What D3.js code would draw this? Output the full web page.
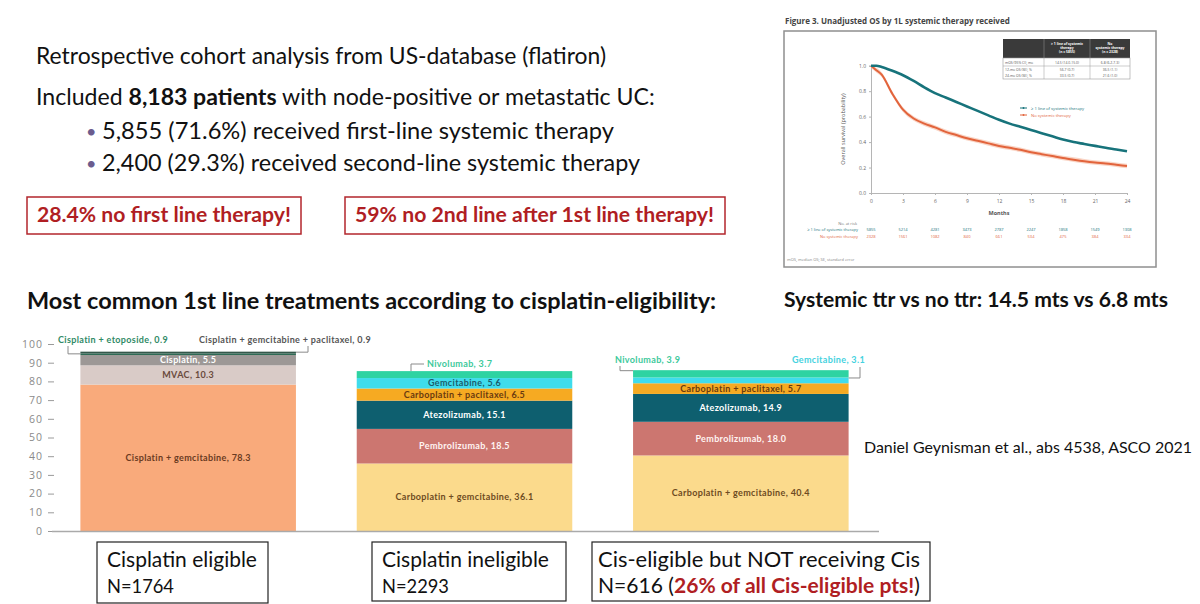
<!DOCTYPE html>
<html><head><meta charset="utf-8">
<script src="https://cdn.jsdelivr.net/npm/d3@7"></script>
<style>
html,body{margin:0;padding:0;background:#fff;}
svg{display:block;}
</style></head><body>
<svg id="c" width="1200" height="604"></svg>
<script>
// ---------------- DATA ----------------
const groups = ["Cisplatin eligible", "Cisplatin ineligible", "Cis-eligible but NOT receiving Cis"];
const groupN = ["N=1764", "N=2293", "N=616"];

const eligibleTreatments = ["Cisplatin + gemcitabine", "MVAC", "Cisplatin", "Cisplatin + etoposide", "Cisplatin + gemcitabine + paclitaxel"];
const eligibleValues = [78.3, 10.3, 5.5, 0.9, 0.9];

const ineligibleTreatments = ["Carboplatin + gemcitabine", "Pembrolizumab", "Atezolizumab", "Carboplatin + paclitaxel", "Gemcitabine", "Nivolumab"];
const ineligibleValues = [36.1, 18.5, 15.1, 6.5, 5.6, 3.7];

const notCisTreatments = ["Carboplatin + gemcitabine", "Pembrolizumab", "Atezolizumab", "Carboplatin + paclitaxel", "Gemcitabine", "Nivolumab"];
const notCisValues = [40.4, 18.0, 14.9, 5.7, 3.1, 3.9];

const yTicks = [0, 10, 20, 30, 40, 50, 60, 70, 80, 90, 100];

// Kaplan-Meier
const kmMonths = [0, 0.5, 1, 2, 3, 4, 5, 6, 7, 8, 9, 10, 11, 12, 13, 14, 15, 16, 17, 18, 19, 20, 21, 22, 23, 24];
const kmSystemic = [1.0, 1.0, 0.99, 0.96, 0.925, 0.88, 0.83, 0.785, 0.75, 0.715, 0.68, 0.645, 0.61, 0.575, 0.545, 0.52, 0.495, 0.47, 0.445, 0.42, 0.40, 0.385, 0.37, 0.355, 0.342, 0.328];
const kmNoSystemic = [1.0, 0.965, 0.93, 0.78, 0.655, 0.585, 0.545, 0.515, 0.48, 0.455, 0.43, 0.41, 0.39, 0.37, 0.355, 0.34, 0.32, 0.305, 0.29, 0.275, 0.262, 0.25, 0.24, 0.232, 0.222, 0.212];
const kmXTicks = [0, 3, 6, 9, 12, 15, 18, 21, 24];
const kmYTicks = [0, 0.2, 0.4, 0.6, 0.8, 1.0];
const atRiskSystemic = [5855, 5214, 4281, 3473, 2787, 2247, 1858, 1549, 1308];
const atRiskNoSystemic = [2328, 1561, 1082, 840, 661, 534, 475, 384, 334];
const kmSeries = ["≥ 1 line of systemic therapy", "No systemic therapy"];
const kmTableHeader = [[], ["≥ 1 line of systemic", "therapy", "(n = 5855)"], ["No", "systemic therapy", "(n = 2328)"]];
const kmTableRows = [["mOS (95% CI), mo", "14.5 (14.0-15.0)", "6.8 (6.2-7.3)"],
                     ["12-mo OS (SE), %", "56.7 (0.7)", "36.5 (1.1)"],
                     ["24-mo OS (SE), %", "33.5 (0.7)", "21.6 (1.0)"]];

// ---------------- STYLES ----------------
const fillColor = {
  "Cisplatin + gemcitabine": "#F9AA7B",
  "MVAC": "#D9CBC7",
  "Cisplatin": "#9D9896",
  "Cisplatin + etoposide": "#2E6B55",
  "Cisplatin + gemcitabine + paclitaxel": "#34574a",
  "Carboplatin + gemcitabine": "#FBDA8C",
  "Pembrolizumab": "#CC7670",
  "Atezolizumab": "#0E5F6F",
  "Carboplatin + paclitaxel": "#F6AA22",
  "Gemcitabine": "#3FDCEC",
  "Nivolumab": "#2ED3A2"
};
const textColor = {
  "Cisplatin + gemcitabine": "#6a3a22",
  "MVAC": "#6a4a3c",
  "Cisplatin": "#ffffff",
  "Carboplatin + gemcitabine": "#6e4b22",
  "Pembrolizumab": "#fff4f2",
  "Atezolizumab": "#ffffff",
  "Carboplatin + paclitaxel": "#6a3a10",
  "Gemcitabine": "#1d5c6c"
};

const svg = d3.select("#c");
const SLIDE_FONT = "Lato, 'Open Sans', sans-serif";

function fit(t, w) {
  const fs = parseFloat(t.attr("font-size"));
  const L = t.node().getComputedTextLength();
  t.attr("font-size", (fs * w / L).toFixed(2));
  return t;
}
function slideText(x, y, str, w, opts = {}) {
  const t = svg.append("text").attr("x", x).attr("y", y)
    .attr("font-family", SLIDE_FONT).attr("font-size", 20)
    .attr("font-weight", opts.weight || 400).attr("fill", opts.fill || "#111")
    .text(str);
  if (w) fit(t, w);
  return t;
}

// ---------------- SLIDE TEXT ----------------
slideText(36, 64, "Retrospective cohort analysis from US-database (flatiron)", 570);
{
  const t = svg.append("text").attr("x", 36).attr("y", 105)
    .attr("font-family", SLIDE_FONT).attr("font-size", 20).attr("fill", "#111");
  t.append("tspan").text("Included ");
  t.append("tspan").attr("font-weight", 700).text("8,183 patients");
  t.append("tspan").text(" with node-positive or metastatic UC:");
  fit(t, 619);
}
svg.append("text").attr("x", 86).attr("y", 138).attr("font-family", SLIDE_FONT)
  .attr("font-size", 18).attr("fill", "#6B5C8E").text("•");
svg.append("text").attr("x", 86).attr("y", 170).attr("font-family", SLIDE_FONT)
  .attr("font-size", 18).attr("fill", "#6B5C8E").text("•");
slideText(102, 139, "5,855 (71.6%) received first-line systemic therapy", 512);
slideText(102, 171, "2,400 (29.3%) received second-line systemic therapy", 538);

// red boxes
svg.append("rect").attr("x", 27).attr("y", 197).attr("width", 274).attr("height", 37)
  .attr("fill", "none").attr("stroke", "#B3262C").attr("stroke-width", 1.5);
svg.append("rect").attr("x", 345).attr("y", 197).attr("width", 380).attr("height", 37)
  .attr("fill", "none").attr("stroke", "#B3262C").attr("stroke-width", 1.5);
slideText(37, 222, "28.4% no first line therapy!", 254, {fill: "#B01E23", weight: 700});
slideText(355, 222, "59% no 2nd line after 1st line therapy!", 359, {fill: "#B01E23", weight: 700});

slideText(27, 309, "Most common 1st line treatments according to cisplatin-eligibility:", 689, {weight: 700});
slideText(784, 307, "Systemic ttr vs no ttr: 14.5 mts vs 6.8 mts", 384, {weight: 700});
slideText(864, 453, "Daniel Geynisman et al., abs 4538, ASCO 2021", 328);

// ---------------- BAR CHART ----------------
const y = d3.scaleLinear().domain([0, 100]).range([531, 344]);
const x = d3.scaleBand().domain(groups).range([50, 879]).paddingInner(0.22).paddingOuter(0.11);

const gAxis = svg.append("g").attr("transform", "translate(54,0)")
  .call(d3.axisLeft(y).tickValues(yTicks).tickSize(6).tickPadding(5));
gAxis.select(".domain").remove();
gAxis.selectAll(".tick line").attr("stroke", "#9a9a9a");
gAxis.selectAll(".tick text").attr("fill", "#8a8a8a").attr("font-family", "'Open Sans', sans-serif")
  .attr("font-size", 10.5).attr("letter-spacing", 1);

const barData = [
  {group: groups[0], names: eligibleTreatments, values: eligibleValues},
  {group: groups[1], names: ineligibleTreatments, values: ineligibleValues},
  {group: groups[2], names: notCisTreatments, values: notCisValues}
];
const segs = [];
barData.forEach(b => {
  let acc = 0;
  b.names.forEach((n, i) => {
    segs.push({group: b.group, name: n, value: b.values[i], y0: acc, y1: acc + b.values[i]});
    acc += b.values[i];
  });
});

svg.append("g").selectAll("rect").data(segs).join("rect")
  .attr("x", d => x(d.group)).attr("width", x.bandwidth())
  .attr("y", d => y(d.y1)).attr("height", d => y(d.y0) - y(d.y1))
  .attr("fill", d => fillColor[d.name]);

// baseline
svg.append("line").attr("x1", 52).attr("x2", 879).attr("y1", y(0) + 0.5).attr("y2", y(0) + 0.5)
  .attr("stroke", "#aaaaaa").attr("stroke-width", 1.5);

const LABEL_FONT = "Lato, 'Open Sans', sans-serif";
// inside labels (segments tall enough)
const inside = segs.filter(d => textColor[d.name] && !(d.group === groups[2] && d.name === "Gemcitabine"));
svg.append("g").selectAll("text").data(inside).join("text")
  .attr("x", d => x(d.group) + x.bandwidth() / 2)
  .attr("y", d => y((d.y0 + d.y1) / 2))
  .attr("dy", "0.35em").attr("text-anchor", "middle")
  .attr("font-family", LABEL_FONT).attr("font-weight", 700).attr("font-size", 9)
  .attr("letter-spacing", 0.35)
  .attr("fill", d => textColor[d.name])
  .text(d => `${d.name}, ${d.value.toFixed(1)}`);

// outside labels with brackets
const outside = [
  {group: groups[0], name: "Cisplatin + etoposide", side: "left", tx: 58, ty: 343, anchor: "start", bx: 68, by: 346, color: "#2F8A66"},
  {group: groups[0], name: "Cisplatin + gemcitabine + paclitaxel", side: "right", tx: 199, ty: 343, anchor: "start", bx: 308, by: 346, color: "#555555"},
  {group: groups[1], name: "Nivolumab", side: "leftTop", tx: 427, ty: 367, anchor: "start", bx: 411, by: 364, color: "#3CC99B"},
  {group: groups[2], name: "Nivolumab", side: "left", tx: 615, ty: 363, anchor: "start", bx: 620, by: 366, color: "#3CC99B"},
  {group: groups[2], name: "Gemcitabine", side: "right", tx: 865, ty: 363, anchor: "end", bx: 860, by: 367, color: "#45D2E0"}
];
outside.forEach(o => {
  const s = segs.find(d => d.group === o.group && d.name === o.name);
  const barTop = y(s.y1);
  let path;
  if (o.side === "left") path = `M${o.bx},${o.by}V${barTop + 0.5}H${x(o.group)}`;
  else if (o.side === "right") path = `M${x(o.group) + x.bandwidth()},${barTop + 0.5}H${o.bx}V${o.by}`;
  else path = `M${o.tx - 3},${o.by}H${o.bx}V${barTop}`;
  svg.append("path").attr("d", path).attr("fill", "none").attr("stroke", "#8a8a8a").attr("stroke-width", 1);
  svg.append("text").attr("x", o.tx).attr("y", o.ty).attr("text-anchor", o.anchor)
    .attr("font-family", LABEL_FONT).attr("font-weight", 700).attr("font-size", 9)
    .attr("letter-spacing", 0.35).attr("fill", o.color)
    .text(`${o.name}, ${s.value.toFixed(1)}`);
});

// group boxes
const boxes = [
  {x0: 97, x1: 268, y0: 542, y1: 603},
  {x0: 372, x1: 566, y0: 542, y1: 601},
  {x0: 592, x1: 930, y0: 542, y1: 601}
];
boxes.forEach((b, i) => {
  svg.append("rect").attr("x", b.x0).attr("y", b.y0).attr("width", b.x1 - b.x0).attr("height", b.y1 - b.y0)
    .attr("fill", "#fff").attr("stroke", "#222").attr("stroke-width", 1.2);
});
slideText(107, 567, groups[0], 150);
slideText(107, 593, groupN[0], 67);
slideText(382, 567, groups[1], 167);
slideText(382, 593, groupN[1], 67);
slideText(598, 567, groups[2], 322);
{
  const t = svg.append("text").attr("x", 598).attr("y", 593)
    .attr("font-family", SLIDE_FONT).attr("font-size", 20).attr("fill", "#111");
  t.append("tspan").text(groupN[2] + " (");
  t.append("tspan").attr("font-weight", 700).attr("fill", "#B01E23").text("26% of all Cis-eligible pts!");
  t.append("tspan").text(")");
  fit(t, 322);
}

// ---------------- KM FIGURE ----------------
const km = svg.append("g");
km.append("text").attr("x", 785).attr("y", 24).attr("font-family", "'Open Sans', sans-serif")
  .attr("font-weight", 700).attr("font-size", 7).attr("fill", "#444")
  .text("Figure 3. Unadjusted OS by 1L systemic therapy received").call(t => fit(t, 225));
km.append("rect").attr("x", 784).attr("y", 31).attr("width", 372).attr("height", 236)
  .attr("fill", "#fff").attr("stroke", "#8f8f8f").attr("stroke-width", 1.5);

const kx = d3.scaleLinear().domain([0, 24]).range([871, 1127]);
const ky = d3.scaleLinear().domain([0, 1]).range([193, 65.7]);

const kyAxis = km.append("g").attr("transform", "translate(871,0)")
  .call(d3.axisLeft(ky).tickValues(kmYTicks).tickFormat(d3.format(".1f")).tickSize(2).tickPadding(3));
const kxAxis = km.append("g").attr("transform", "translate(0,193)")
  .call(d3.axisBottom(kx).tickValues(kmXTicks).tickSize(2).tickPadding(4));
[kyAxis, kxAxis].forEach(a => {
  a.select(".domain").attr("stroke", "#b5b5b5");
  a.selectAll(".tick line").attr("stroke", "#b5b5b5");
  a.selectAll(".tick text").attr("font-size", 5).attr("fill", "#666").attr("font-family", "'Open Sans', sans-serif");
});
km.append("text").attr("transform", "translate(845,129) rotate(-90)").attr("text-anchor", "middle")
  .attr("font-size", 5.5).attr("fill", "#555").attr("font-family", "'Open Sans', sans-serif")
  .text("Overall survival (probability)");
km.append("text").attr("x", 999).attr("y", 215).attr("text-anchor", "middle")
  .attr("font-size", 5.5).attr("font-weight", 700).attr("fill", "#555").attr("font-family", "'Open Sans', sans-serif")
  .text("Months");

const kmTeal = "#17737B", kmOrange = "#E2643C";
const band = d3.area().x((d, i) => kx(kmMonths[i])).y0(d => ky(d - 0.018)).y1(d => ky(Math.min(1, d + 0.018))).curve(d3.curveMonotoneX);
km.append("path").attr("d", band(kmNoSystemic)).attr("fill", "#F6C3AE").attr("opacity", 0.7);
const line = d3.line().x((d, i) => kx(kmMonths[i])).y(d => ky(d)).curve(d3.curveMonotoneX);
km.append("path").attr("d", line(kmNoSystemic)).attr("fill", "none").attr("stroke", kmOrange).attr("stroke-width", 2);
km.append("path").attr("d", line(kmSystemic)).attr("fill", "none").attr("stroke", kmTeal).attr("stroke-width", 2.6);

// legend
[[kmSeries[0], kmTeal, 108], [kmSeries[1], kmOrange, 115]].forEach(([lab, col, ly]) => {
  km.append("line").attr("x1", 1020).attr("x2", 1027).attr("y1", ly).attr("y2", ly).attr("stroke", col).attr("stroke-width", 1);
  km.append("circle").attr("cx", 1023.5).attr("cy", ly).attr("r", 0.9).attr("fill", col);
  km.append("text").attr("x", 1031).attr("y", ly + 1.5).attr("font-size", 4.2).attr("fill", col)
    .attr("font-family", "'Open Sans', sans-serif").text(lab);
});

// table
const tx0 = 1003, colX = [1003, 1044, 1090, 1130], rowY = [39, 58, 66, 72.5, 79];
km.append("rect").attr("x", tx0).attr("y", rowY[0]).attr("width", colX[3] - tx0).attr("height", rowY[1] - rowY[0]).attr("fill", "#3a3a3a");
km.append("rect").attr("x", tx0).attr("y", rowY[1]).attr("width", colX[3] - tx0).attr("height", rowY[4] - rowY[1])
  .attr("fill", "#fff").attr("stroke", "#999").attr("stroke-width", 0.6);
km.append("line").attr("x1", tx0).attr("x2", colX[3]).attr("y1", rowY[2]).attr("y2", rowY[2]).attr("stroke", "#999").attr("stroke-width", 0.5);
[colX[1], colX[2]].forEach(cx => km.append("line").attr("x1", cx).attr("x2", cx).attr("y1", rowY[0]).attr("y2", rowY[4]).attr("stroke", "#999").attr("stroke-width", 0.5));
kmTableHeader.forEach((lines, i) => {
  if (!lines.length) return;
  const cx = (colX[i] + colX[i + 1]) / 2;
  const t = km.append("text").attr("x", cx).attr("y", 44.5).attr("text-anchor", "middle")
    .attr("font-size", 3.4).attr("font-weight", 700).attr("fill", "#fff").attr("font-family", "'Open Sans', sans-serif");
  lines.forEach((ln, k) => t.append("tspan").attr("x", cx).attr("dy", k ? 4.4 : 0).text(ln));
});
kmTableRows.forEach((r, ri) => {
  const yy = [63.5, 70.5, 77][ri];
  r.forEach((c, ci) => {
    km.append("text").attr("x", ci === 0 ? colX[0] + 2 : (colX[ci] + colX[ci + 1]) / 2).attr("y", yy)
      .attr("text-anchor", ci === 0 ? "start" : "middle").attr("font-size", 3.4).attr("fill", "#555")
      .attr("font-family", "'Open Sans', sans-serif").text(c);
  });
});

// numbers at risk
km.append("text").attr("x", 857).attr("y", 225).attr("text-anchor", "end").attr("font-size", 4).attr("fill", "#777")
  .attr("font-family", "'Open Sans', sans-serif").text("No. at risk");
[[kmSeries[0], atRiskSystemic, kmTeal, 231], [kmSeries[1], atRiskNoSystemic, kmOrange, 238]].forEach(([lab, vals, col, ry]) => {
  km.append("text").attr("x", 858).attr("y", ry).attr("text-anchor", "end").attr("font-size", 4).attr("fill", col)
    .attr("font-family", "'Open Sans', sans-serif").text(lab);
  km.append("g").selectAll("text").data(vals).join("text")
    .attr("x", (d, i) => kx(kmXTicks[i])).attr("y", ry).attr("text-anchor", "middle")
    .attr("font-size", 4).attr("fill", col).attr("font-family", "'Open Sans', sans-serif").text(d => d);
});
km.append("text").attr("x", 787).attr("y", 261).attr("font-size", 4).attr("fill", "#888")
  .attr("font-family", "'Open Sans', sans-serif").text("mOS, median OS; SE, standard error");
</script>
</body></html>
